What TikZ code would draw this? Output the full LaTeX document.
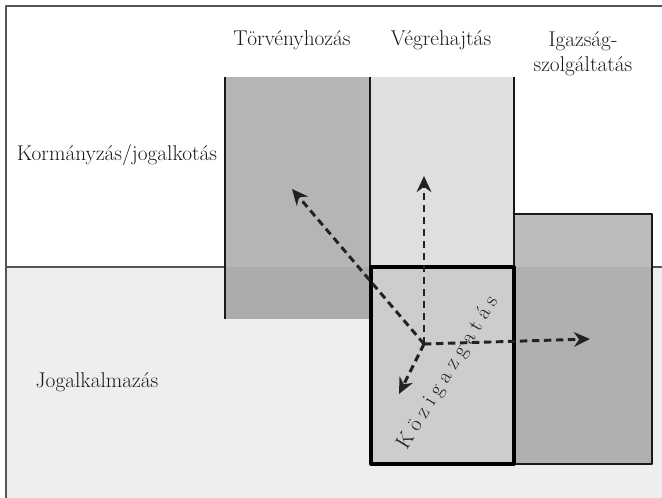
\documentclass[tikz,border=0pt]{standalone}
\usetikzlibrary{arrows.meta}
\definecolor{lowgray}{HTML}{EEEEEE}
\definecolor{framegray}{HTML}{555555}
\definecolor{legisup}{HTML}{B5B5B5}
\definecolor{legislow}{HTML}{ACACAC}
\definecolor{execgray}{HTML}{DFDFDF}
\definecolor{judup}{HTML}{BCBCBC}
\definecolor{judlow}{HTML}{B0B0B0}
\definecolor{admingray}{HTML}{CDCDCD}
\definecolor{arrowgray}{HTML}{222222}
\begin{document}
\begin{tikzpicture}[x=0.75pt,y=-0.75pt,line join=round,>={Stealth[length=12pt,width=11pt]},font=\fontsize{16}{19}\selectfont]
	\tikzset{
		label/.style={inner sep=0pt,text=black!90},
		edge/.style={draw=black!90,line width=0.8pt},
		vector/.style={->,draw=arrowgray,line width=2.2pt,dash pattern=on 5.5pt off 3.5pt}
	}
	\def \ytop{77};
	\def \ymid{267};
	\def \gap{\hspace{4.3pt}}
	\useasboundingbox (0,0) rectangle (662,498);
	\fill[lowgray] (6,\ymid) rectangle (662,498);
	\draw[framegray,line width=1.1pt] (6,498) -- (6,6) -- (662,6);
	\draw[framegray,line width=0.8pt] (6,\ymid) -- (662,\ymid);
	% Törvényhozás
	\fill[legisup] (225,\ytop) rectangle (370,\ymid);
	\fill[legislow] (225,\ymid) rectangle (370,319);
	\draw[edge] (225,\ytop) -- (225,319);
	% Végrehajtás
	\fill[execgray] (370,\ytop) rectangle (514,\ymid);
	\draw[edge] (370,\ytop) -- (370,\ymid);
	\draw[edge] (514,\ytop) -- (514,214);
	% Igazságszolgáltatás
	\fill[judup] (514,214) rectangle (652,\ymid);
	\fill[judlow] (514,\ymid) rectangle (652,464);
	\draw[edge] (514,214) rectangle (652,464);
	% Közigazgatás
	\fill[admingray] (371,\ymid) rectangle (514,464);
	\draw[black,line width=2.4pt] (371,\ymid) rectangle (514,464);
	\node[label] (torveny) at (292,40) {Törvényhozás};
	\node[label] (vegre) at (441,40) {Végrehajtás};
	\node[label,align=center] (igazsag) at (583,54) {Igazság-\\szolgáltatás};
	\node[label] (kormany) at (117,155) {Kormányzás/jogalkotás};
	\node[label] (jogalk) at (97,382) {Jogalkalmazás};
	\node[label,rotate=58.5] (kozig) at (448,373) {K\gap ö\gap z\gap i\gap g\gap a\gap z\gap g\gap a\gap t\gap á\gap s};
	\coordinate (o) at (424,344);
	\coordinate (up) at (424,176);
	\coordinate (upleft) at (292,189);
	\coordinate (right) at (590,339);
	\coordinate (downleft) at (399,394);
	\foreach \p in {up,upleft,right,downleft}
	{
		\draw[vector] (o) -- (\p);
	}
\end{tikzpicture}
\end{document}
